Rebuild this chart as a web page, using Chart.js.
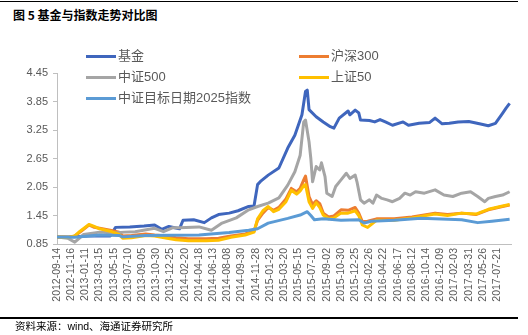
<!DOCTYPE html>
<html>
<head>
<meta charset="utf-8">
<script src="https://cdn.jsdelivr.net/npm/chart.js@4.4.0/dist/chart.umd.min.js"></script>
<style>
body { margin: 0; background: #fff; }
#wrap { position: relative; width: 528px; height: 335px; overflow: hidden; font-family: "Liberation Sans", "Noto Sans CJK SC", sans-serif; }
#chart-box { position: absolute; left: 0; top: 0; width: 528px; height: 335px; }
.rule { position: absolute; left: 0; width: 518px; background: #000; }
#title { position: absolute; left: 13px; top: 6px; font-size: 12px; font-weight: bold; color: #000; font-family: "Noto Sans CJK SC", sans-serif; }
#source { position: absolute; left: 15px; top: 318px; font-size: 10.5px; color: #000; }
.legend-item { position: absolute; height: 16px; line-height: 16px; font-size: 13px; color: #595959; display: flex; align-items: center; white-space: nowrap; }
.legend-item .swatch { display: inline-block; width: 30px; height: 3px; margin-right: 2px; }
</style>
</head>
<body>
<div id="wrap">
  <div class="rule" style="top:1px; height:1px;"></div>
  <div id="title">图 5 基金与指数走势对比图</div>
  <div id="chart-box"><canvas id="trend-chart"></canvas></div>
  <div id="legend"></div>
  <div class="rule" style="top:317px; height:1.5px;"></div>
  <div id="source">资料来源：wind、海通证券研究所</div>
</div>
<script>
// Data (week index since 2012-09-14, net value)

const tickLabels = ["2012-09-14", "2012-11-16", "2013-01-11", "2013-03-15", "2013-05-15", "2013-07-10", "2013-09-05", "2013-10-30",
    "2013-12-25", "2014-02-20", "2014-04-18", "2014-06-13", "2014-08-08", "2014-09-30", "2014-11-28", "2015-01-23",
    "2015-03-20", "2015-05-15", "2015-07-10", "2015-09-02", "2015-10-30", "2015-12-25", "2016-02-26", "2016-04-22",
    "2016-06-17", "2016-08-12", "2016-10-14", "2016-12-09", "2017-02-03", "2017-03-31", "2017-05-26", "2017-07-21"];

const seriesNames = ["基金", "沪深300", "中证500", "上证50", "中证目标日期2025指数"];

const fundWeeks = [0, 7, 18, 30, 33, 41, 49, 55, 59, 63, 69, 71, 77, 83, 87, 91, 97, 102, 108, 111, 113, 115, 119, 125, 130,
    134, 138, 140, 141, 142, 146, 150, 154, 156, 159, 164, 165, 168, 170, 171, 176, 179, 182, 185, 189, 195, 198, 204, 210, 213,
    217, 221, 226, 232, 238, 243, 247, 251, 253, 255];
const fundValues = [1.00, 1.00, 1.02, 1.02, 1.20, 1.21, 1.23, 1.25, 1.16, 1.22, 1.17, 1.35, 1.36, 1.30, 1.40, 1.47, 1.50, 1.55, 1.64, 1.65, 2.10, 2.18, 2.30, 2.45, 2.87,
    3.14, 3.57, 4.06, 4.09, 3.68, 3.53, 3.42, 3.32, 3.29, 3.50, 3.65, 3.57, 3.67, 3.61, 3.46, 3.45, 3.42, 3.47, 3.42, 3.35, 3.42, 3.35, 3.39, 3.41, 3.50,
    3.38, 3.39, 3.42, 3.43, 3.38, 3.34, 3.39, 3.60, 3.71, 3.81];

const indexWeeks = [0, 6, 10, 13, 18, 21, 24, 30, 35, 37, 42, 50, 55, 62, 67, 74, 84, 91, 98, 106, 111, 113, 116, 119, 122,
    125, 129, 132, 135, 137, 139, 140, 142, 144, 146, 148, 150, 153, 156, 160, 164, 168, 170, 172, 175, 180, 190, 200, 213, 220,
    228, 236, 243, 251, 255];
const hs300Values = [1.00, 0.99, 1.02, 1.10, 1.25, 1.20, 1.18, 1.14, 1.10, 1.02, 1.03, 1.06, 1.04, 1.02, 0.98, 0.96, 0.96, 0.97, 1.02, 1.06, 1.12, 1.35, 1.50, 1.62, 1.56,
    1.62, 1.80, 2.02, 1.95, 2.02, 2.20, 2.28, 1.85, 1.68, 1.76, 1.70, 1.50, 1.42, 1.44, 1.57, 1.56, 1.62, 1.50, 1.32, 1.33, 1.38, 1.38, 1.42, 1.50, 1.47,
    1.50, 1.47, 1.57, 1.64, 1.67];
const sz50Values = [1.00, 0.99, 1.02, 1.12, 1.26, 1.22, 1.17, 1.12, 1.05, 0.97, 0.98, 1.03, 1.02, 0.97, 0.94, 0.92, 0.92, 0.93, 0.99, 1.04, 1.10, 1.38, 1.55, 1.64, 1.53,
    1.58, 1.74, 1.98, 1.90, 1.97, 2.08, 2.10, 1.74, 1.60, 1.72, 1.62, 1.46, 1.38, 1.40, 1.50, 1.50, 1.55, 1.45, 1.25, 1.20, 1.35, 1.35, 1.40, 1.48, 1.45,
    1.50, 1.48, 1.58, 1.65, 1.68];

const zz500Weeks = [0, 6, 10, 15, 24, 32, 38, 44, 55, 60, 65, 69, 80, 87, 93, 101, 108, 113, 119, 125, 130, 134, 137, 139, 140,
    142, 143, 144, 146, 148, 149, 151, 152, 155, 157, 160, 163, 165, 168, 169, 171, 173, 176, 178, 180, 183, 186, 189, 193, 196,
    199, 202, 207, 213, 218, 223, 228, 233, 237, 241, 243, 247, 251, 255];
const zz500Values = [1.00, 0.97, 0.89, 1.05, 1.10, 1.08, 1.10, 1.11, 1.18, 1.11, 1.19, 1.19, 1.21, 1.14, 1.29, 1.40, 1.57, 1.64, 1.71, 1.82, 2.09, 2.37, 2.72, 3.42, 3.46,
    3.00, 2.65, 2.16, 2.48, 2.41, 2.56, 2.27, 1.92, 1.85, 2.06, 2.20, 2.34, 2.23, 2.30, 2.16, 1.78, 1.71, 1.78, 1.71, 1.88, 1.81, 1.78, 1.74, 1.81, 1.92,
    1.88, 1.95, 1.92, 1.99, 1.88, 1.85, 1.92, 1.95, 1.85, 1.74, 1.81, 1.85, 1.88, 1.95];

const targetWeeks = [0, 10, 24, 35, 37, 50, 80, 97, 108, 113, 119, 130, 137, 141, 143, 145, 150, 160, 170, 173, 177, 190, 205, 228, 237,
    245, 255];
const targetValues = [1.00, 0.99, 1.04, 1.03, 1.00, 1.03, 1.04, 1.09, 1.14, 1.17, 1.29, 1.39, 1.46, 1.53, 1.45, 1.36, 1.38, 1.35, 1.36, 1.29, 1.33, 1.35, 1.39, 1.36, 1.30,
    1.33, 1.37];

const yTicks = { min: 0.85, max: 4.45, step: 0.3 };

// Chart

const toPoints = (weeks, values) => weeks.map((w, i) => ({ x: w, y: values[i] }));

const colors = ['#3F66BD', '#ED7D31', '#A5A5A5', '#FFC000', '#5B9BD5'];
const seriesData = [
    toPoints(fundWeeks, fundValues),
    toPoints(indexWeeks, hs300Values),
    toPoints(zz500Weeks, zz500Values),
    toPoints(indexWeeks, sz50Values),
    toPoints(targetWeeks, targetValues)
];

// later series on top, like the original
const datasets = seriesNames.map((name, i) => ({
    label: name,
    data: seriesData[i],
    borderColor: colors[i],
    backgroundColor: colors[i],
    borderWidth: 3,
    pointRadius: 0,
    tension: 0,
    borderJoinStyle: 'round',
    order: seriesNames.length - i
}));

Chart.defaults.font.family = '"Liberation Sans", Arial, sans-serif';
Chart.defaults.color = '#595959';

const trendChart = new Chart(document.getElementById('trend-chart'), {
    type: 'line',
    data: { datasets: datasets },
    options: {
        responsive: true,
        maintainAspectRatio: false,
        animation: false,
        layout: { padding: { top: 73, right: 15, bottom: 31, left: 0 } },
        plugins: {
            legend: { display: false },
            tooltip: { enabled: false }
        },
        scales: {
            x: {
                type: 'linear',
                min: 0,
                max: tickLabels.length * 8,
                grid: { drawOnChartArea: false, drawTicks: false },
                border: { color: '#BFBFBF' },
                ticks: {
                    stepSize: 8,
                    autoSkip: false,
                    maxRotation: 90,
                    minRotation: 90,
                    padding: 4,
                    font: { size: 10.5 },
                    callback: v => tickLabels[v / 8] || ''
                },
                afterFit: scale => { scale.height = 60; }
            },
            y: {
                min: yTicks.min,
                max: yTicks.max,
                grid: { drawOnChartArea: false, drawTicks: true, tickLength: 4, color: '#BFBFBF' },
                border: { color: '#BFBFBF' },
                ticks: {
                    stepSize: yTicks.step,
                    padding: 5,
                    font: { size: 11 },
                    callback: v => v.toFixed(2)
                },
                afterFit: scale => { scale.width = 57; }
            }
        }
    }
});

// Legend (two columns over the plot)

const legendBox = document.getElementById('legend');
seriesNames.forEach((name, i) => {
    const item = document.createElement('div');
    item.className = 'legend-item';
    item.style.left = (i % 2 === 0 ? 86 : 299) + 'px';
    item.style.top = (48 + Math.floor(i / 2) * 21) + 'px';
    item.innerHTML = `<span class="swatch" style="background:${colors[i]}"></span>${name}`;
    legendBox.appendChild(item);
});
</script>
</body>
</html>
